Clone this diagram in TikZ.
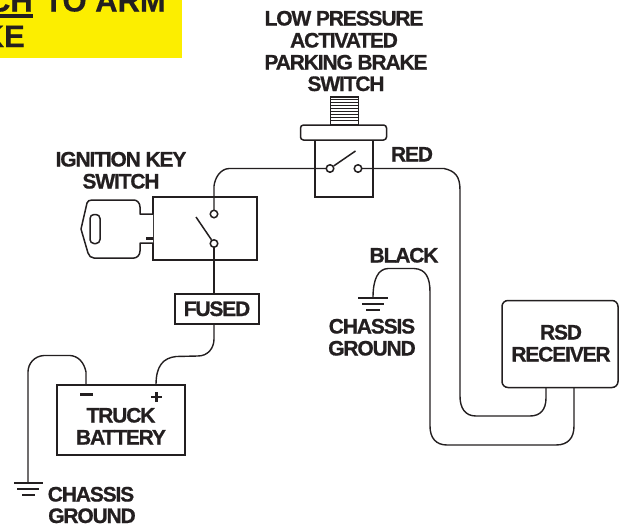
\documentclass[tikz,border=0pt]{standalone}
\usepackage{fontspec}
\setmainfont{Liberation Sans}
\newfontfamily\lblfont{Liberation Sans}[Ligatures=NoCommon,LetterSpace=-5.5,BoldFeatures={FakeBold=0.8}]
\newfontfamily\bigfont{Liberation Sans}[Ligatures=NoCommon,BoldFeatures={FakeBold=0.3}]
\definecolor{ink}{HTML}{231F20}
\definecolor{banner}{HTML}{FCEE00}
\tikzset{
  lbl/.style={inner sep=0pt,anchor=base,text=ink,font=\lblfont\bfseries\fontsize{21}{21}\selectfont},
  big/.style={inner sep=0pt,anchor=base east,text=ink,font=\bigfont\bfseries\fontsize{31}{31}\selectfont},
  part/.style={draw=ink,line width=1.5pt,fill=white},
  wire/.style={draw=ink,line width=1.4pt,line join=round},
  contact/.style={circle,draw=ink,line width=1.5pt,fill=white,minimum size=7.5pt,inner sep=0pt},
  lever/.style={draw=ink,line width=1.5pt},
  gnd/.style={draw=ink,line width=1.5pt},
}
\begin{document}
\begin{tikzpicture}[x=1pt,y=-1pt]
\useasboundingbox (0,0) rectangle (625,525);
\begin{scope}
\clip (0,0) rectangle (625,525);
\fill[banner] (0,0) rectangle (182,57.5);
\node[big] (armtxt) at (166,11.5) {TO ARM};
\node[big] (chtxt) at (33,11.5) {CH};
\node[big] (ketxt) at (25,47) {KE};
\fill[ink] (0,14) rectangle (33,17.5);
\end{scope}
% stem
\node[part,minimum width=28pt,minimum height=28pt,inner sep=0pt] (stem) at (344.5,111) {};
\foreach \y in {99.5,102.5,...,122.5} \draw[ink,line width=1.5pt] (331,\y) -- (358,\y);
% parking switch
\node[part,minimum width=58pt,minimum height=57pt,inner sep=0pt] (pbody) at (344,168.5) {};
\node[part,rounded corners=3pt,minimum width=86pt,minimum height=15pt,inner sep=0pt] (flange) at (343.5,132.5) {};
% ignition
\node[part,minimum width=104pt,minimum height=63pt,inner sep=0pt] (ibody) at (205,228.5) {};
% key
\draw[part,line join=round] (153,214) -- (140,214) -- (140,207) .. controls (140,203) and (137,200) .. (134,200) -- (92,200) .. controls (89,200) and (88,201) .. (87,203) -- (81,229) -- (88,253) .. controls (89,256) and (91,258) .. (94,258) -- (134,258) .. controls (137,258) and (140,255) .. (140,251) -- (140,243) -- (153,243);
\node[part,rounded corners=4pt,minimum width=10pt,minimum height=29pt,inner sep=0pt] (slot) at (95,229) {};
\draw[ink,line width=3pt] (146,238) -- (153,238);
% fuse, battery, receiver
\node[part,minimum width=84pt,minimum height=30pt,inner sep=0pt] (fuse) at (217,309) {};
\node[part,minimum width=128pt,minimum height=70pt,inner sep=0pt] (batt) at (121,420) {};
\node[part,rounded corners=6pt,minimum width=116pt,minimum height=87pt,inner sep=0pt] (recv) at (560,344) {};
% terminals
\coordinate (pleft) at (330,168.5);
\coordinate (pright) at (358,168.5);
\coordinate (itop) at (214,214);
\coordinate (ibot) at (214,243.5);
\coordinate (fusetop) at (214,294);
\coordinate (fusebot) at (214,324);
\coordinate (battplus) at (156,385);
\coordinate (battminus) at (86,385);
\coordinate (recvA) at (546,387.5);
\coordinate (recvB) at (574,387.5);
\coordinate (gndL) at (28,483);
\coordinate (gndR) at (373,298);
% wires
\draw[wire] (itop) -- (214,186) .. controls (215,178) and (220,169) .. (229,168.5) -- (pleft);
\draw[wire] (pright) -- (444,168.5) .. controls (455,171) and (460,176) .. (460,190) -- (460,396) .. controls (460,408) and (465,416) .. (476,416) -- (530,416) .. controls (540,416) and (546,410) .. (546,398) -- (recvA);
\draw[wire] (recvB) -- (574,426) .. controls (574,438) and (568,445) .. (556,445) -- (447,445) .. controls (436,445) and (430,438) .. (430,426) -- (430,292) .. controls (430,278) and (426,269) .. (414,268.5) -- (388,268.5) .. controls (378,269) and (373,279) .. (gndR);
\draw[wire] (ibot) -- (fusetop);
\draw[wire] (fusebot) -- (214,339) .. controls (214,348) and (208,356) .. (198,356) -- (176,356.5) .. controls (163,358) and (156,366) .. (battplus);
\draw[wire] (battminus) -- (86,372) .. controls (84,362) and (78,356) .. (70,355.5) -- (44,355.5) .. controls (34,356) and (28,364) .. (28,372) -- (gndL);
% contacts and levers
\node[contact] (c1) at (pleft) {};
\node[contact] (c2) at (pright) {};
\draw[lever] (c1) -- (355.5,151);
\node[contact] (c3) at (itop) {};
\node[contact] (c4) at (ibot) {};
\draw[lever] (c4) -- (196,217);
% grounds
\draw[gnd] (14,483) -- (43,483) (17,489) -- (39,489) (22,495) -- (35,495);
\draw[gnd] (358,298) -- (388,298) (362,304) -- (384,304) (366,310) -- (380,310);
% battery signs
\draw[ink,line width=2.5pt] (80,394.5) -- (93,394.5);
\draw[ink,line width=2.5pt] (151,397) -- (162,397) (156.5,392) -- (156.5,402);
% labels
\node[lbl] (l1) at (344,25.5) {LOW PRESSURE};
\node[lbl] (l2) at (344,47.5) {ACTIVATED};
\node[lbl] (l3) at (346,69.5) {PARKING BRAKE};
\node[lbl] (l4) at (346,91) {SWITCH};
\node[lbl] (l5) at (121,166.5) {IGNITION KEY};
\node[lbl] (l6) at (121,188.5) {SWITCH};
\node[lbl] (l7) at (412,161.5) {RED};
\node[lbl] (l8) at (404,262.5) {BLACK};
\node[lbl] (l9) at (372,333.5) {CHASSIS};
\node[lbl] (l10) at (372,355.5) {GROUND};
\node[lbl] (l11) at (217,316) {FUSED};
\node[lbl] (l12) at (121,422.5) {TRUCK};
\node[lbl] (l13) at (121,444.5) {BATTERY};
\node[lbl] (l14) at (561,339.5) {RSD};
\node[lbl] (l15) at (561,361.5) {RECEIVER};
\node[lbl] (l16) at (91,501.5) {CHASSIS};
\node[lbl] (l17) at (92,523) {GROUND};
\end{tikzpicture}
\end{document}
